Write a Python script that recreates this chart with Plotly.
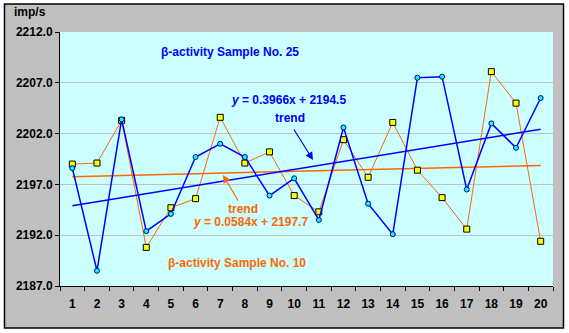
import plotly.graph_objects as go

# Measurement index and count rates (imp/s) for the two samples
samples = [str(i) for i in range(1, 21)]
sample25 = [2198.6, 2188.5, 2203.4, 2192.4, 2194.1, 2199.7, 2201.0, 2199.7, 2195.9, 2197.6,
            2193.5, 2202.6, 2195.1, 2192.1, 2207.5, 2207.6, 2196.5, 2203.0, 2200.6, 2205.5]
sample10 = [2199.0, 2199.1, 2203.3, 2190.8, 2194.7, 2195.6, 2203.6, 2199.1, 2200.2, 2195.9,
            2194.3, 2201.4, 2197.7, 2203.1, 2198.4, 2195.7, 2192.6, 2208.1, 2205.0, 2191.4]

# Linear trend coefficients (slope, intercept)
trend25 = (0.3966, 2194.5)
trend10 = (0.0584, 2197.7)

y_ticks = [2187, 2192, 2197, 2202, 2207, 2212]

BLUE = "#0000FF"
ORANGE = "#FF6600"
FONT = "Arial, 'Liberation Sans', sans-serif"

idx = list(range(1, 21))
trend25_y = [trend25[0] * i + trend25[1] for i in idx]
trend10_y = [trend10[0] * i + trend10[1] for i in idx]

fig = go.Figure()
fig.add_trace(go.Scatter(x=samples, y=trend10_y, mode="lines",
                         line=dict(color=ORANGE, width=1.5), hoverinfo="skip"))
fig.add_trace(go.Scatter(x=samples, y=sample10, mode="lines+markers",
                         line=dict(color=ORANGE, width=1),
                         marker=dict(symbol="square", size=6, color="#FFFF00",
                                     line=dict(color="#000000", width=1))))
fig.add_trace(go.Scatter(x=samples, y=trend25_y, mode="lines",
                         line=dict(color=BLUE, width=1.5), hoverinfo="skip"))
fig.add_trace(go.Scatter(x=samples, y=sample25, mode="lines+markers",
                         line=dict(color=BLUE, width=1.5),
                         marker=dict(symbol="circle", size=5, color="#00FFFF",
                                     line=dict(color="#000080", width=1))))

def note(text, x, y, color, **kw):
    fig.add_annotation(text=text, x=x, y=y, xref="paper", yref="paper",
                       showarrow=False, font=dict(family=FONT, size=12, color=color),
                       xanchor="center", yanchor="middle", **kw)

note("<b>β-activity Sample No. 25</b>", 0.3448, 0.9213, BLUE)
note("<b><i>y</i> = 0.3966x + 2194.5</b>", 0.4645, 0.7323, BLUE)
note("<b>trend</b>", 0.4665, 0.6614, BLUE)
note("<b>trend</b>", 0.3712, 0.3031, ORANGE)
note("<b><i>y</i> = 0.0584x + 2197.7</b>", 0.3854, 0.252, ORANGE)
note("<b>β-activity Sample No. 10</b>", 0.359, 0.0906, ORANGE)
note("<b>imp/s</b>", -0.0609, 1.0787, "#000000")

# Pointer arrows from the "trend" labels to their lines
fig.add_annotation(text="", x=0.5132, y=0.4961, xref="paper", yref="paper",
                   showarrow=True, ax=-20, ay=-32, arrowhead=2, arrowsize=1.3,
                   arrowwidth=1.2, arrowcolor=BLUE)
fig.add_annotation(text="", x=0.3306, y=0.437, xref="paper", yref="paper",
                   showarrow=True, ax=16, ay=27, arrowhead=2, arrowsize=1.3,
                   arrowwidth=1.2, arrowcolor=ORANGE)

# Grey chart frame and cyan plotting area
fig.add_shape(type="rect", xref="paper", yref="paper",
              x0=-0.1126, x1=1.0213, y0=-0.1654, y1=1.1102,
              fillcolor="#C0C0C0", line=dict(color="#000000", width=1.5), layer="below")
fig.add_shape(type="rect", xref="paper", yref="paper", x0=0, x1=1, y0=0, y1=1,
              fillcolor="#CCFFFF", line=dict(width=0), layer="below")

fig.update_layout(
    width=569, height=333,
    margin=dict(l=60, r=16, t=32, b=47),
    paper_bgcolor="#FFFFFF", plot_bgcolor="#CCFFFF",
    showlegend=False,
    font=dict(family=FONT, size=12, color="#000000"),
)
fig.update_xaxes(type="category", tickson="boundaries", ticks="outside", ticklen=4,
                 tickcolor="#000000", showline=True, linecolor="#000000", linewidth=1,
                 showgrid=False, tickfont=dict(family=FONT, size=12, color="#000000"),
                 tickprefix="<b>", ticksuffix="</b>", range=[-0.5, 19.5],
                 ticklabelstandoff=7)
fig.update_yaxes(range=[2187, 2212], tickvals=y_ticks,
                 ticktext=[f"<b>{v:.1f}</b>" for v in y_ticks],
                 ticks="outside", ticklen=4, tickcolor="#000000",
                 showline=True, linecolor="#000000", linewidth=1,
                 showgrid=True, gridcolor="#C0C0C0", gridwidth=1, zeroline=False,
                 tickfont=dict(family=FONT, size=12, color="#000000"))

fig.write_html("out.html")
